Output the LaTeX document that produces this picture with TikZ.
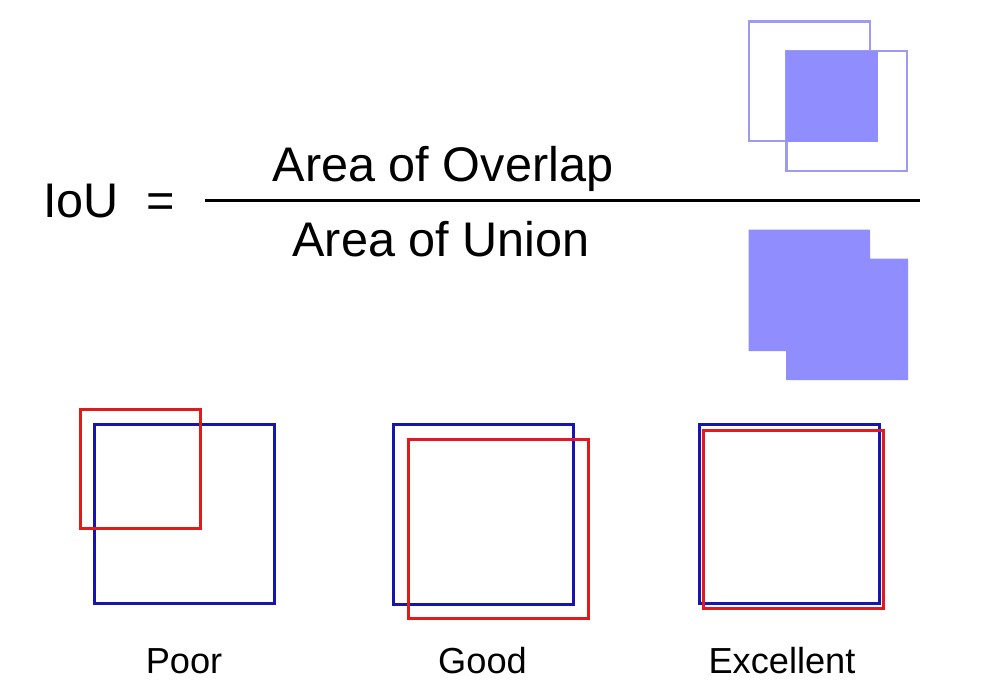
\documentclass[tikz,border=0pt]{standalone}
\usepackage{fontspec}
\setmainfont{Liberation Sans}
\definecolor{iouviolet}{RGB}{144,142,255}
\definecolor{ioulinev}{RGB}{158,154,240}
\definecolor{gtblue}{RGB}{22,22,175}
\definecolor{predred}{RGB}{226,26,32}
\begin{document}
\begin{tikzpicture}[x=1pt,y=-1pt,
  bigtxt/.style={inner sep=0pt, font=\fontsize{48.6}{58}\selectfont},
  lbltxt/.style={inner sep=0pt, font=\fontsize{36.2}{42}\selectfont},
  fracline/.style={line width=3pt, black},
  outlinebox/.style={draw=ioulinev, line width=2.2pt},
  areafill/.style={fill=iouviolet, draw=none},
  gtbox/.style={draw=gtblue, line width=3pt},
  predbox/.style={draw=predred, line width=3pt}]
\useasboundingbox (0,0) rectangle (1000,688);
\fill[white] (0,0) rectangle (1000,688);

% formula
\node[bigtxt, anchor=base west] (iou) at (43,217) {IoU};
\node[bigtxt, anchor=base] (eq) at (160.5,217) {=};
\node[bigtxt, anchor=base] (num) at (443,181) {Area of Overlap};
\node[bigtxt, anchor=base] (den) at (441,256) {Area of Union};
\coordinate (fl) at (205,200.5);
\coordinate (fr) at (920,200.5);
\draw[fracline] (fl) -- (fr);

% overlap illustration
\draw[outlinebox] (749,21.5) rectangle (870,141);
\draw[outlinebox] (786.5,51) rectangle (907,171);
\fill[areafill] (786,51) rectangle (878,141.5);

% union illustration
\fill[areafill] (748.5,229.5) -- (870,229.5) -- (870,258.5) -- (908,258.5)
  -- (908,380) -- (786,380) -- (786,351) -- (748.5,351) -- cycle;

% poor
\draw[gtbox] (94.5,424) rectangle (274.5,603);
\draw[predbox] (80,409.5) rectangle (200,528.5);
% good
\draw[gtbox] (393.5,424.5) rectangle (573,604);
\draw[predbox] (408.5,439) rectangle (588,618);
% excellent
\draw[gtbox] (699.5,424) rectangle (879,603.5);
\draw[predbox] (703.5,430) rectangle (883.5,608.5);

% labels
\node[lbltxt, anchor=base] (poor) at (184,673) {Poor};
\node[lbltxt, anchor=base] (good) at (482.5,673) {Good};
\node[lbltxt, anchor=base] (exc) at (782,673) {Excellent};
\end{tikzpicture}
\end{document}
